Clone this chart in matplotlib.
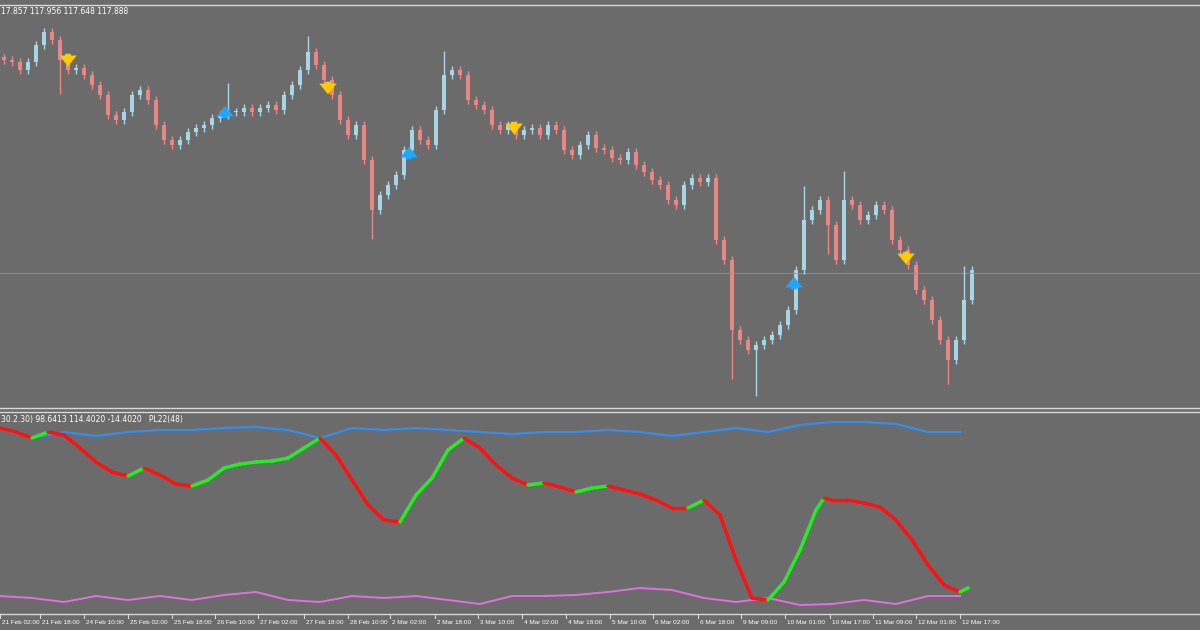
import matplotlib
matplotlib.use("Agg")
import matplotlib.pyplot as plt
import numpy as np

# closes (pixel-estimated, converted to price)
close_px = [60,62,70,62,45,32,40,60,70,68,75,85,95,115,120,112,95,90,100,125,140,145,140,132,128,125,118,115,112,112,108,112,108,105,110,95,85,70,52,65,80,95,120,135,125,160,210,195,185,175,150,130,140,145,110,75,70,75,100,105,110,125,130,125,135,130,128,135,125,130,150,155,145,135,148,150,158,160,152,165,172,180,185,200,205,185,178,182,178,240,260,330,340,350,345,340,335,325,310,270,220,210,200,225,260,200,205,220,215,205,210,240,250,265,290,300,320,340,360,340,300,270]
closes = [118.2 - y * 0.004 for y in close_px]
long_wicks_low = {7: 0.12, 46: 0.1, 91: 0.18, 94: 0.17, 103: 0.1, 118: 0.08}
long_wicks_high = {38: 0.05, 55: 0.08, 28: 0.1, 100: 0.12, 105: 0.1, 120: 0.12}

tick_px = [0,40,84,128,172,215,258,304,348,390,435,478,522,566,610,653,698,741,785,830,873,916,960]
tick_labels = ["21 Feb 02:00","21 Feb 18:00","24 Feb 10:00","25 Feb 02:00","25 Feb 18:00","26 Feb 10:00",
               "27 Feb 02:00","27 Feb 18:00","28 Feb 10:00","2 Mar 02:00","2 Mar 18:00","3 Mar 10:00",
               "4 Mar 02:00","4 Mar 18:00","5 Mar 10:00","6 Mar 02:00","6 Mar 18:00","9 Mar 09:00",
               "10 Mar 01:00","10 Mar 17:00","11 Mar 09:00","12 Mar 01:00","12 Mar 17:00"]

down_arrows_px = [(68, 60), (328, 88), (514, 128), (906, 258)]
up_arrows_px = [(225, 112), (409, 153), (794, 283)]

main_x = [0,16,32,48,64,80,96,112,128,144,160,176,192,208,224,240,256,272,288,304,320,336,352,368,384,400,416,432,448,464,480,496,512,528,544,560,576,592,608,624,640,656,672,688,704,720,736,752,768,784,800,816,824,832,848,864,880,896,912,928,944,960,968]
main_y = [428,432,438,432,435,448,462,472,476,468,475,484,486,480,468,464,462,461,458,448,438,455,480,505,520,522,495,478,450,438,448,465,478,485,483,487,492,488,486,490,494,500,508,508,500,515,560,598,600,582,550,510,498,500,500,503,507,520,540,565,585,592,588]
blue_x = list(range(0, 961, 32))
blue_y = [428,438,432,436,432,430,430,428,427,430,438,428,430,428,430,432,434,432,432,430,432,436,432,428,432,425,422,422,424,432,432]
mag_y = [596,598,602,596,600,596,600,595,592,600,602,596,598,596,600,604,596,596,595,592,588,590,598,602,598,605,604,600,604,596,596]

BG = "#6b6b6b"
fig = plt.figure(figsize=(12, 6.3), dpi=100, facecolor=BG)
W, H = 1200, 630
def ax_at(x0, y0, x1, y1):
    return fig.add_axes([x0 / W, 1 - y1 / H, (x1 - x0) / W, (y1 - y0) / H])

ax1 = ax_at(0, 5, 1200, 408)
ax2 = ax_at(0, 412, 1200, 614)
for ax in (ax1, ax2):
    ax.set_facecolor(BG)
    ax.set_xlim(0, 150)
    ax.set_xticks([])
    ax.set_yticks([])
    for s in ax.spines.values():
        s.set_color("#d8d8d8")
        s.set_linewidth(1.0)
    ax.spines["right"].set_visible(False)
    ax.spines["left"].set_visible(False)

ax1.set_ylim(118.2 - 408 * 0.004, 118.2 - 5 * 0.004)
ax1.axhline(118.2 - 273 * 0.004, color="#8a8a8a", lw=0.8)
for i, c in enumerate(closes):
    o = closes[i - 1] if i > 0 else c + 0.01
    hi = max(o, c) + 0.015 + long_wicks_high.get(i, 0)
    lo = min(o, c) - 0.015 - long_wicks_low.get(i, 0)
    col = "#a9d6e5" if c >= o else "#e98686"
    x = i + 0.5
    ax1.vlines(x, lo, hi, color=col, lw=1)
    body = max(abs(c - o), 0.004)
    ax1.bar(x, body, bottom=min(o, c), width=0.55, color=col, edgecolor="none")

style = "simple,head_width=0.9,head_length=0.55,tail_width=0.3"
for px, py in down_arrows_px:
    ax1.annotate("", xy=(px / 8, 118.2 - (py + 9) * 0.004), xytext=(px / 8, 118.2 - (py - 9) * 0.004),
                 arrowprops=dict(arrowstyle=style, color="#ffcc00", lw=0, mutation_scale=14))
for px, py in up_arrows_px:
    ax1.annotate("", xy=(px / 8, 118.2 - (py - 9) * 0.004), xytext=(px / 8, 118.2 - (py + 9) * 0.004),
                 arrowprops=dict(arrowstyle=style, color="#1ea7ff", lw=0, mutation_scale=14))
ax1.text(0.001, 0.995, "17.857 117.956 117.648 117.888", transform=ax1.transAxes, color="white",
         fontsize=5.5, va="top", ha="left")

ax2.set_ylim(614, 412)
ax2.plot(np.array(blue_x) / 8, blue_y, color="#2f8ef0", lw=1.6)
ax2.plot(np.array(blue_x) / 8, mag_y, color="#e070e0", lw=1.4)
mx = np.array(main_x) / 8
for i in range(len(mx) - 1):
    col = "#22ee22" if main_y[i + 1] < main_y[i] else "#ff1111"
    ax2.plot(mx[i:i + 2], main_y[i:i + 2], color=col, lw=2.5, solid_capstyle="round")
ax2.text(0.001, 0.985, "30.2.30) 98.6413 114.4020 -14.4020   PL22(48)", transform=ax2.transAxes,
         color="white", fontsize=5.5, va="top", ha="left")

for px, lab in zip(tick_px, tick_labels):
    fig.lines.append(plt.Line2D([px / W, px / W], [1 - 614 / H, 1 - 618 / H], color="#d8d8d8", lw=0.8,
                                transform=fig.transFigure))
    fig.text((px + 2) / W, 1 - 622 / H, lab, color="white", fontsize=4.6, va="center", ha="left",
             family="Liberation Sans")

fig.savefig("out.png", dpi=100, facecolor=BG)
